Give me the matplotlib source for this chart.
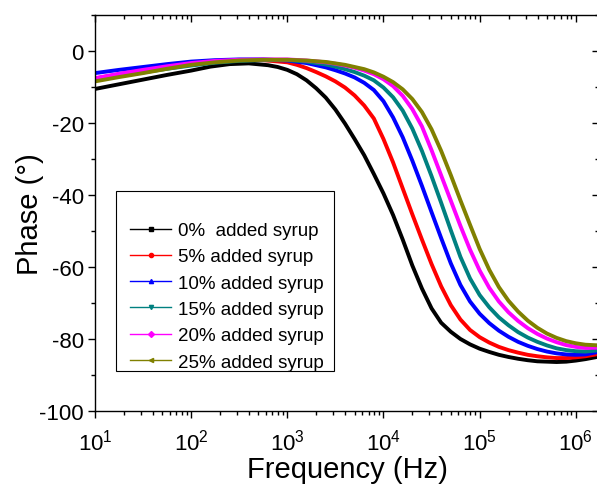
import numpy as np
import matplotlib
matplotlib.use("Agg")
import matplotlib.pyplot as plt
from matplotlib.lines import Line2D
from matplotlib.patches import Rectangle
from matplotlib.ticker import LogLocator, MultipleLocator

plt.rcParams['font.family'] = ['Liberation Sans', 'DejaVu Sans']
plt.rcParams['mathtext.fontset'] = 'custom'
plt.rcParams['mathtext.rm'] = 'Liberation Sans'
plt.rcParams['axes.unicode_minus'] = False

labels = ["0%  added syrup", "5% added syrup", "10% added syrup",
          "15% added syrup", "20% added syrup", "25% added syrup"]
colors = ["black", "red", "blue", "#008080", "magenta", "#808000"]
markers = ["s", "o", "^", "v", "D", "<"]

# log10(frequency / Hz) and phase (deg)
lgf_0 = [1.0, 1.25, 1.5, 1.75, 2.0, 2.2, 2.4, 2.6, 2.8, 2.9, 3.0, 3.1, 3.2, 3.3, 3.4, 3.5,
         3.6, 3.7, 3.8, 3.9, 4.0, 4.1, 4.2, 4.3, 4.4, 4.5, 4.6, 4.7, 4.8, 4.9, 5.0, 5.1,
         5.2, 5.3, 5.4, 5.5, 5.6, 5.7, 5.8, 5.9, 6.0, 6.1, 6.2, 6.25]
ph_0 = [-10.6, -9.3, -8.0, -6.7, -5.5, -4.4, -3.7, -3.5, -4.0, -4.5, -5.3, -6.5, -8.2,
        -10.4, -13.0, -16.3, -20.2, -24.5, -29.0, -34.2, -39.6, -45.6, -52.4, -59.6, -66.0,
        -71.5, -75.5, -78.0, -80.0, -81.5, -82.7, -83.6, -84.4, -85.0, -85.5, -85.9, -86.2,
        -86.3, -86.4, -86.3, -86.0, -85.6, -85.1, -84.8]

lgf_5 = [1.0, 1.25, 1.5, 1.75, 2.0, 2.25, 2.5, 2.75, 3.0, 3.1, 3.2, 3.3, 3.4, 3.5, 3.6,
         3.7, 3.8, 3.9, 4.0, 4.1, 4.2, 4.3, 4.4, 4.5, 4.6, 4.7, 4.8, 4.9, 5.0, 5.1, 5.2,
         5.3, 5.4, 5.5, 5.6, 5.7, 5.8, 5.9, 6.0, 6.1, 6.25]
ph_5 = [-7.7, -6.5, -5.4, -4.4, -3.5, -2.9, -2.6, -2.6, -3.2, -3.9, -4.8, -5.9, -7.1, -8.5,
        -10.2, -12.4, -15.2, -18.8, -24.5, -31.0, -38.2, -45.4, -52.4, -59.2, -65.4, -70.6,
        -74.6, -77.5, -79.5, -81.0, -82.2, -83.1, -83.8, -84.4, -84.8, -85.1, -85.3, -85.3,
        -85.1, -84.8, -84.1]

lgf_10 = [1.0, 1.25, 1.5, 1.75, 2.0, 2.25, 2.5, 2.75, 3.0, 3.2, 3.4, 3.5, 3.6, 3.7, 3.8,
          3.9, 4.0, 4.1, 4.2, 4.3, 4.4, 4.5, 4.6, 4.7, 4.8, 4.9, 5.0, 5.1, 5.2, 5.3, 5.4,
          5.5, 5.6, 5.7, 5.8, 5.9, 6.0, 6.1, 6.25]
ph_10 = [-6.2, -5.3, -4.5, -3.7, -3.0, -2.6, -2.4, -2.4, -2.7, -3.4, -4.6, -5.4, -6.3,
         -7.4, -8.9, -10.9, -14.0, -18.5, -24.0, -30.5, -37.5, -44.8, -52.0, -59.0, -65.0,
         -69.6, -73.0, -75.6, -77.7, -79.4, -80.8, -81.9, -82.8, -83.5, -84.0, -84.3, -84.4,
         -84.3, -83.5]

lgf_15 = [1.0, 1.25, 1.5, 1.75, 2.0, 2.25, 2.5, 2.75, 3.0, 3.2, 3.4, 3.5, 3.6, 3.7, 3.8,
          3.9, 4.0, 4.1, 4.2, 4.3, 4.4, 4.5, 4.6, 4.7, 4.8, 4.9, 5.0, 5.1, 5.2, 5.3, 5.4,
          5.5, 5.6, 5.7, 5.8, 5.9, 6.0, 6.1, 6.25]
ph_15 = [-8.2, -7.0, -6.0, -5.0, -4.1, -3.3, -2.8, -2.6, -2.6, -3.0, -3.8, -4.4, -5.1,
         -5.9, -6.9, -8.2, -10.2, -12.9, -16.6, -21.6, -27.8, -34.8, -42.2, -49.8, -57.2,
         -63.2, -67.8, -71.2, -74.0, -76.2, -78.1, -79.6, -80.8, -81.8, -82.6, -83.1, -83.4,
         -83.5, -83.1]

lgf_20 = [1.0, 1.25, 1.5, 1.75, 2.0, 2.25, 2.5, 2.75, 3.0, 3.2, 3.4, 3.5, 3.6, 3.7, 3.8,
          3.9, 4.0, 4.1, 4.2, 4.3, 4.4, 4.5, 4.6, 4.7, 4.8, 4.9, 5.0, 5.1, 5.2, 5.3, 5.4,
          5.5, 5.6, 5.7, 5.8, 5.9, 6.0, 6.1, 6.25]
ph_20 = [-7.6, -6.4, -5.3, -4.3, -3.4, -2.8, -2.5, -2.4, -2.4, -2.7, -3.2, -3.6, -4.1,
         -4.7, -5.5, -6.5, -7.9, -9.8, -12.5, -16.2, -21.0, -27.6, -34.6, -41.6, -48.6,
         -55.2, -61.0, -65.8, -69.6, -72.6, -75.0, -77.0, -78.6, -79.9, -80.9, -81.7, -82.2,
         -82.5, -82.4]

lgf_25 = [1.0, 1.25, 1.5, 1.75, 2.0, 2.25, 2.5, 2.75, 3.0, 3.2, 3.4, 3.5, 3.6, 3.7, 3.8,
          3.9, 4.0, 4.1, 4.2, 4.3, 4.4, 4.5, 4.6, 4.7, 4.8, 4.9, 5.0, 5.1, 5.2, 5.3, 5.4,
          5.5, 5.6, 5.7, 5.8, 5.9, 6.0, 6.1, 6.25]
ph_25 = [-8.5, -7.3, -6.2, -5.0, -3.9, -3.2, -2.7, -2.5, -2.5, -2.7, -3.1, -3.5, -3.9,
         -4.5, -5.1, -6.0, -7.2, -8.7, -10.7, -13.4, -17.0, -21.8, -27.8, -34.5, -41.5,
         -48.3, -55.0, -60.8, -65.6, -69.4, -72.4, -74.9, -76.9, -78.5, -79.7, -80.6, -81.2,
         -81.6, -81.8]

all_lgf = [lgf_0, lgf_5, lgf_10, lgf_15, lgf_20, lgf_25]
all_ph = [ph_0, ph_5, ph_10, ph_15, ph_20, ph_25]

fig = plt.figure(figsize=(5.97, 4.85), dpi=100)
ax = fig.add_axes([0.159, 0.1505, 0.845, 0.817])

for i in range(len(labels)):
    f = np.power(10.0, np.array(all_lgf[i]))
    ax.plot(f, all_ph[i], color=colors[i], lw=2.8, solid_capstyle='butt')

ax.set_xscale('log')
ax.set_xlim(10, 10 ** 6.245)
ax.set_ylim(-100, 10)
ax.yaxis.set_major_locator(MultipleLocator(20))
ax.yaxis.set_minor_locator(MultipleLocator(10))
ax.xaxis.set_major_locator(LogLocator(base=10, numticks=10))
ax.xaxis.set_minor_locator(LogLocator(base=10, subs=np.arange(2, 10), numticks=20))

ax.tick_params(axis='both', which='major', length=5, width=1, direction='out', labelsize=16, pad=3)
ax.tick_params(axis='both', which='minor', length=3, width=1, direction='out')
ax.tick_params(axis='x', which='major', labelsize=16, pad=8)
ax.tick_params(which='both', top=True, right=True)
# inward ticks on top/right
for t in ax.xaxis.get_major_ticks() + ax.xaxis.get_minor_ticks():
    t.tick2line.set_marker(3)
for t in ax.yaxis.get_major_ticks() + ax.yaxis.get_minor_ticks():
    t.tick2line.set_marker(0)
for s in ax.spines.values():
    s.set_linewidth(1)

ax.set_xlabel("Frequency (Hz)", fontsize=21, labelpad=0)
ax.set_ylabel("Phase (°)", fontsize=21)
ax.yaxis.set_label_coords(-0.1, 0.5)

# legend box drawn separately (it has extra room above the first entry)
ax.add_patch(Rectangle((0.042, 0.101), 0.432, 0.454, transform=ax.transAxes,
                       facecolor='white', edgecolor='black', lw=0.8, zorder=4))
handles = []
for i in range(len(labels)):
    handles.append(Line2D([], [], color=colors[i], lw=1, marker=markers[i], markersize=3))
leg = ax.legend(handles, labels, loc='upper left', bbox_to_anchor=(0.07, 0.477),
                fontsize=13.5, frameon=False, borderpad=0, handlelength=2.2,
                handletextpad=0.35, labelspacing=0.49, borderaxespad=0)
leg.set_zorder(5)

plt.savefig("out.png", dpi=100)
